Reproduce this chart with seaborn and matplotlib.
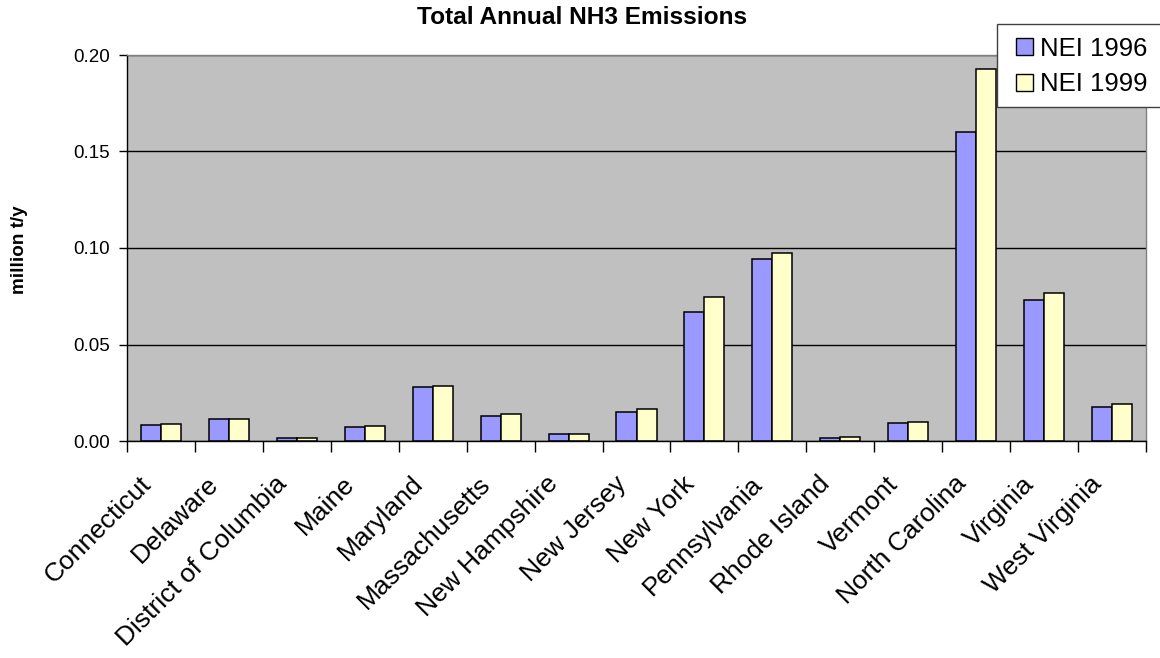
import numpy as np
import pandas as pd
import matplotlib
matplotlib.use('Agg')
import matplotlib.pyplot as plt
from matplotlib.patches import Patch, Rectangle
from matplotlib.transforms import ScaledTranslation
import seaborn as sns

# values (million t/y)
states = ['Connecticut', 'Delaware', 'District of Columbia', 'Maine', 'Maryland',
          'Massachusetts', 'New Hampshire', 'New Jersey', 'New York', 'Pennsylvania',
          'Rhode Island', 'Vermont', 'North Carolina', 'Virginia', 'West Virginia']
nei_1996 = [0.0081, 0.0116, 0.0014, 0.0073, 0.0279, 0.0131, 0.0035, 0.0150,
            0.0670, 0.0941, 0.0016, 0.0093, 0.1600, 0.0732, 0.0176]
nei_1999 = [0.0087, 0.0116, 0.0014, 0.0080, 0.0284, 0.0142, 0.0036, 0.0166,
            0.0747, 0.0976, 0.0019, 0.0100, 0.1927, 0.0765, 0.0190]
series = ['NEI 1996', 'NEI 1999']
colors = {'NEI 1996': '#9999FF', 'NEI 1999': '#FFFFCC'}

df = pd.DataFrame({
    'state': states * 2,
    'source': [series[0]] * len(states) + [series[1]] * len(states),
    'value': nei_1996 + nei_1999,
})

sns.set_theme(style='white')
plt.rcParams['font.family'] = ['Liberation Sans', 'DejaVu Sans']
plt.rcParams['text.color'] = 'black'
plt.rcParams['xtick.color'] = 'black'
plt.rcParams['ytick.color'] = 'black'
plt.rcParams['axes.labelcolor'] = 'black'

W, H = 1160, 658
fig = plt.figure(figsize=(W / 100, H / 100), dpi=100)
ax = fig.add_axes([127 / W, 1 - 441 / H, 1019 / W, 386 / H])
ax.set_facecolor('#C0C0C0')

sns.barplot(data=df, x='state', y='value', hue='source', order=states,
            hue_order=series, palette=colors, width=0.59, edgecolor='black',
            linewidth=1.1, saturation=1, legend=False, ax=ax)

ax.set_xlim(-0.5, len(states) - 0.5)
ax.set_ylim(0, 0.20)
ax.set_yticks(np.arange(0, 0.201, 0.05))
ax.set_yticklabels([f'{v:.2f}' for v in np.arange(0, 0.201, 0.05)], fontsize=13.5)
ax.tick_params(axis='y', direction='out', length=6, width=1, color='black',
               pad=6.5, left=True)
ax.yaxis.grid(True, color='black', lw=1)
ax.set_axisbelow(True)

ax.set_xticks(range(len(states)))
ax.set_xticklabels(states, rotation=45, ha='right', va='baseline',
                   rotation_mode='anchor', fontsize=19)
ax.tick_params(axis='x', which='major', length=0, pad=31.7)
# nudge the rotated labels a little to the left
shift = ScaledTranslation(-9 / 100, 0, fig.dpi_scale_trans)
for lab in ax.get_xticklabels():
    lab.set_transform(lab.get_transform() + shift)
ax.set_xticks(np.arange(-0.5, len(states), 1), minor=True)
ax.tick_params(axis='x', which='minor', direction='out', length=8, width=1,
               color='black', bottom=True)
ax.set_xlabel('')
ax.set_ylabel('')

for side in ['left', 'bottom']:
    ax.spines[side].set_color('black')
    ax.spines[side].set_linewidth(1)
for side in ['top', 'right']:
    ax.spines[side].set_color('#808080')
    ax.spines[side].set_linewidth(1)

fig.text(0.502, 1 - 17 / H, 'Total Annual NH3 Emissions', ha='center',
         va='center', fontsize=17.6, fontweight='bold')
fig.text(19.5 / W, 1 - 250 / H, 'million t/y', rotation=90, ha='center',
         va='center', fontsize=13.6, fontweight='bold')

# legend frame runs off the right edge of the figure, as in the reference
frame = Rectangle((997 / W, 1 - 107 / H), 260 / W, 83 / H, transform=fig.transFigure,
                  facecolor='white', edgecolor='#404040', lw=1, zorder=4)
fig.patches.append(frame)

handles = [Patch(facecolor=colors[s], edgecolor='black', linewidth=1) for s in series]
leg = fig.legend(handles, series, loc='upper left',
                 bbox_to_anchor=(1003 / W, 1 - 24 / H), borderaxespad=0,
                 frameon=False, fontsize=18.5,
                 handlelength=0.65, handleheight=0.65, handletextpad=0.3,
                 labelspacing=0.45, borderpad=0.5)
leg.set_zorder(5)

fig.savefig('out.png', dpi=100)
